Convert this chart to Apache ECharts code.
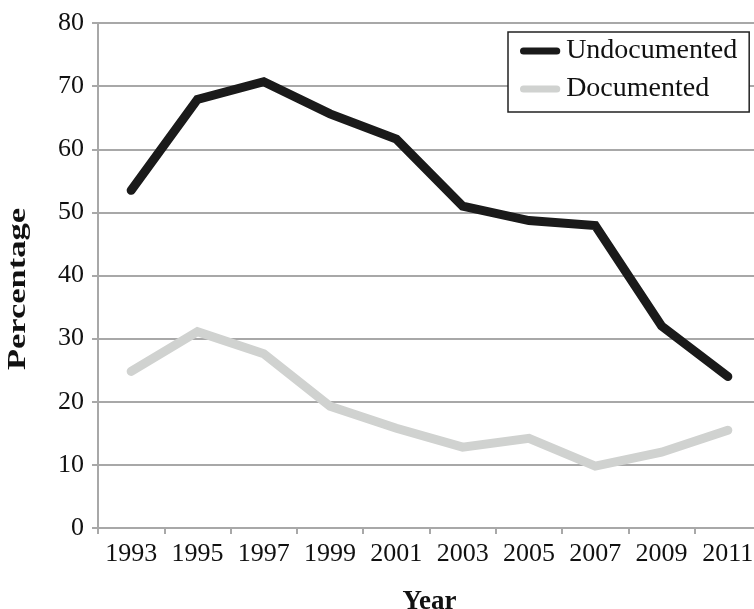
<!DOCTYPE html>
<html>
<head>
<meta charset="utf-8">
<script src="https://cdn.jsdelivr.net/npm/echarts@6/dist/echarts.min.js"></script>
<style>
  html, body { margin: 0; padding: 0; background: #fff; }
  #chart { width: 754px; height: 609px; }
</style>
</head>
<body>
<div id="chart"></div>
<script>
// Survey years (x-axis categories)
const years = ['1993', '1995', '1997', '1999', '2001', '2003', '2005', '2007', '2009', '2011'];
// Share (%) for each group by year
const undocumented = [53.5, 67.9, 70.7, 65.6, 61.6, 51.0, 48.7, 47.9, 32.0, 24.0];
const documented = [24.8, 31.1, 27.6, 19.3, 15.8, 12.8, 14.2, 9.8, 12.0, 15.5];
// Y-axis range and step
const yMin = 0, yMax = 80, yStep = 10;

const serif = '"Liberation Serif", "DejaVu Serif", serif';
const gridGray = '#a8a8a8';
// Rounded bar used as legend key
const keyIcon = 'path://M4,0 H42 A4,4 0 0 1 42,8 H4 A4,4 0 0 1 4,0 Z';

const chart = echarts.init(document.getElementById('chart'), null, { renderer: 'canvas' });
chart.setOption({
  animation: false,
  backgroundColor: '#fff',
  textStyle: { fontFamily: serif },
  grid: { left: 98, width: 663, top: 23, bottom: 81, containLabel: false, outerBoundsMode: 'none' },
  // Vertical axis title, drawn separately so it can be stretched lengthwise
  graphic: [{
    type: 'text',
    x: 19, y: 289,
    rotation: Math.PI / 2,
    scaleX: 1.38,
    style: {
      text: 'Percentage',
      font: 'bold 25px ' + serif,
      fill: '#111',
      align: 'center',
      verticalAlign: 'middle'
    }
  }],
  legend: {
    left: 508, top: 32,
    orient: 'vertical',
    padding: [4, 12, 8, 12],
    backgroundColor: '#fff',
    borderColor: '#222',
    borderWidth: 1.5,
    itemWidth: 46, itemHeight: 7, itemGap: 8,
    icon: keyIcon,
    textStyle: { fontFamily: serif, fontSize: 28, color: '#111', padding: [0, 0, 0, -2], lineHeight: 30 },
    data: ['Undocumented', 'Documented']
  },
  xAxis: {
    type: 'category',
    data: years,
    boundaryGap: true,
    name: 'Year',
    nameLocation: 'middle',
    nameGap: 61,
    nameTextStyle: { fontFamily: serif, fontSize: 27, fontWeight: 'bold', color: '#111' },
    axisLine: { lineStyle: { color: gridGray, width: 2 } },
    axisTick: { show: true, length: 6, lineStyle: { color: gridGray, width: 2 } },
    axisLabel: { interval: 0, margin: 13, fontFamily: serif, fontSize: 26, color: '#111' },
    splitLine: { show: false }
  },
  yAxis: {
    type: 'value',
    min: yMin, max: yMax, interval: yStep,
    axisLine: { show: true, lineStyle: { color: gridGray, width: 2 } },
    axisTick: { show: true, length: 6, lineStyle: { color: gridGray, width: 2 } },
    axisLabel: { margin: 14, fontFamily: serif, fontSize: 26, color: '#111' },
    splitLine: { show: true, lineStyle: { color: gridGray, width: 2 } }
  },
  series: [
    {
      name: 'Undocumented',
      type: 'line',
      data: undocumented,
      showSymbol: false,
      symbol: 'none',
      color: '#1a1a1a',
      lineStyle: { color: '#1a1a1a', width: 9, cap: 'round', join: 'miter' },
      z: 3
    },
    {
      name: 'Documented',
      type: 'line',
      data: documented,
      showSymbol: false,
      symbol: 'none',
      color: '#d0d2d0',
      lineStyle: { color: '#d0d2d0', width: 9, cap: 'round', join: 'miter' },
      z: 2
    }
  ]
});
</script>
</body>
</html>
